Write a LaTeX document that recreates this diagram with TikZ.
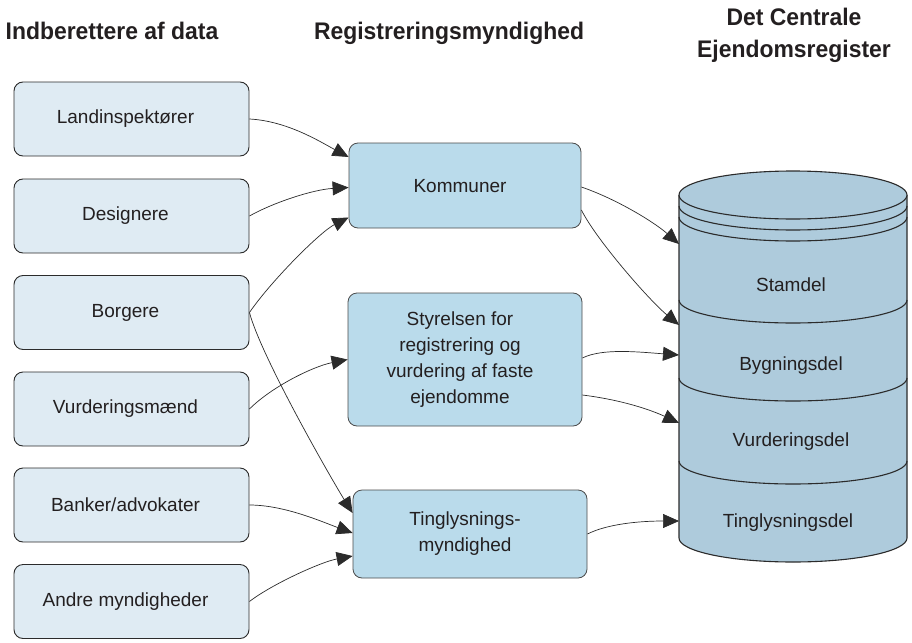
\documentclass[tikz,border=0pt]{standalone}
\usepackage{fontspec}
\setmainfont{Liberation Sans}
\newfontfamily\hdrfont[FakeStretch=0.955]{Liberation Sans}
\usetikzlibrary{arrows.meta,calc}
\definecolor{srcfill}{HTML}{DFEBF3}
\definecolor{midfill}{HTML}{BADBEB}
\definecolor{cylfill}{HTML}{AECBDC}
\definecolor{txt}{HTML}{231F20}
\definecolor{edge}{HTML}{2B2B2B}
\begin{document}
\begin{tikzpicture}[x=1pt,y=-1pt,
  srcbox/.style={draw=edge, line width=0.9pt, rounded corners=9pt, fill=srcfill,
    minimum width=235pt, minimum height=74pt, inner sep=0pt, text=txt,
    font=\fontsize{19}{23}\selectfont, execute at end node={\kern12pt}},
  midbox/.style={draw=edge!85, line width=0.8pt, rounded corners=9pt, fill=midfill, inner sep=0pt},
  midtext/.style={text=txt, font=\fontsize{19}{26}\selectfont, align=center, inner sep=0pt},
  cyltext/.style={text=txt, font=\fontsize{19}{23}\selectfont, inner sep=0pt},
  hdr/.style={text=txt, font=\hdrfont\bfseries\fontsize{24}{31}\selectfont, align=center, inner sep=0pt},
  arr/.style={draw=edge, line width=0.7pt, -{Triangle[length=16pt,width=14pt]}},
  cylline/.style={draw=edge, line width=1.1pt}
]
\useasboundingbox (0,0) rectangle (912,642);

% headers
\node[hdr, anchor=base] (h1) at (112,40) {Indberettere af data};
\node[hdr, anchor=base] (h2) at (449,40) {Registreringsmyndighed};
\node[hdr, anchor=base] (h3) at (794,26) {Det Centrale};
\node[hdr, anchor=base] (h4) at (794,57) {Ejendomsregister};

% source boxes
\node[srcbox] (l1) at (131.5,119) {Landinspektører};
\node[srcbox] (l2) at (131.5,216) {Designere};
\node[srcbox] (l3) at (131.5,312.5) {Borgere};
\node[srcbox] (l4) at (131.5,409) {Vurderingsmænd};
\node[srcbox] (l5) at (131.5,505) {Banker/advokater};
\node[srcbox] (l6) at (131.5,601.5) {Andre myndigheder};

% middle boxes
\node[midbox, minimum width=232pt, minimum height=85pt] (kom) at (465,185.5) {};
\node[midtext] (komt) at ($(kom.center)+(-5,1)$) {Kommuner};
\node[midbox, minimum width=234pt, minimum height=133pt] (sty) at (465,359.5) {};
\node[midtext] (styt) at ($(sty.center)+(-5,0)$) {Styrelsen for\\registrering og\\vurdering af faste\\ejendomme};
\node[midbox, minimum width=234pt, minimum height=88pt] (tin) at (470,534) {};
\node[midtext] (tint) at ($(tin.center)+(-5,0)$) {Tinglysnings-\\myndighed};

% cylinder
\fill[cylfill] (679,195) -- (679,538) arc[start angle=180, end angle=0, x radius=114, y radius=24] -- (907,195) -- cycle;
\draw[cylline] (679,195) -- (679,538) arc[start angle=180, end angle=0, x radius=114, y radius=24] -- (907,195);
\draw[cylline] (679,217) arc[start angle=180, end angle=0, x radius=114, y radius=24];
\draw[cylline] (679,206) arc[start angle=180, end angle=0, x radius=114, y radius=24];
\draw[cylline, fill=cylfill] (793,195) ellipse[x radius=114, y radius=24];
\draw[cylline] (679,300) arc[start angle=180, end angle=0, x radius=114, y radius=23];
\draw[cylline] (679,378) arc[start angle=180, end angle=0, x radius=114, y radius=23];
\draw[cylline] (679,461) arc[start angle=180, end angle=0, x radius=114, y radius=23];

\node[cyltext] (cs1) at (791,285) {Stamdel};
\node[cyltext] (cs2) at (791,366) {Bygningsdel};
\node[cyltext] (cs3) at (791,442) {Vurderingsdel};
\node[cyltext] (cs4) at (788,523) {Tinglysningsdel};

% connector end points
\coordinate (k1) at ($(kom.west)+(0,-28.5)$);
\coordinate (k2) at ($(kom.west)+(0,2)$);
\coordinate (k3) at ($(kom.west)+(0,32)$);
\coordinate (k4) at ($(kom.east)+(0,1.5)$);
\coordinate (k5) at ($(kom.east)+(0,24.5)$);
\coordinate (t1) at ($(tin.west)+(0,-21)$);
\coordinate (t2) at ($(tin.west)+(0,-1)$);
\coordinate (t3) at ($(tin.west)+(0,22)$);
\coordinate (s1) at ($(sty.east)+(0,-1.5)$);
\coordinate (s2) at ($(sty.east)+(0,35.5)$);
\coordinate (c1) at (679,244);
\coordinate (c2) at (679,325);
\coordinate (c3) at (679,355);
\coordinate (c4) at (679,423);
\coordinate (c5) at (679,521);

% connectors
\draw[arr] (l1.east) .. controls +(38,2) and +(-28,-15) .. (k1);
\draw[arr] (l2.east) .. controls +(25,-14) and +(-35,2) .. (k2);
\draw[arr] (l3.east) .. controls +(22,-32) and +(-28,14) .. (k3);
\draw[arr] (l3.east) .. controls +(12,45) and +(-20,-32) .. (t1);
\draw[arr] (l4.east) .. controls +(22,-22) and +(-35,7) .. (sty.west);
\draw[arr] (l5.east) .. controls +(35,0) and +(-30,-11) .. (t2);
\draw[arr] (l6.east) .. controls +(22,-17) and +(-32,6) .. (t3);
\draw[arr] (k4) .. controls +(35,12) and +(-25,-22) .. (c1);
\draw[arr] (k5) .. controls +(15,30) and +(-30,-25) .. (c2);
\draw[arr] (s1) .. controls +(20,-10) and +(-40,-3) .. (c3);
\draw[arr] (s2) .. controls +(40,5) and +(-28,-13) .. (c4);
\draw[arr] (tin.east) .. controls +(20,-10) and +(-40,0) .. (c5);
\end{tikzpicture}
\end{document}
